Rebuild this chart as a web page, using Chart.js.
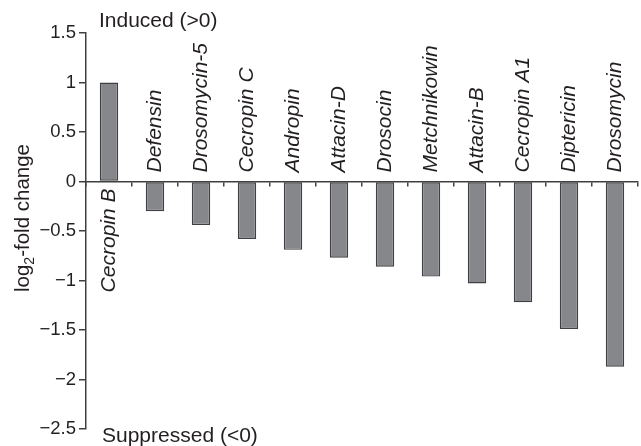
<!DOCTYPE html>
<html>
<head>
<meta charset="utf-8">
<script src="https://cdn.jsdelivr.net/npm/chart.js@4.4.1/dist/chart.umd.min.js"></script>
<style>
  body { margin: 0; background: #fff; }
  canvas { display: block; }
</style>
</head>
<body>
<canvas id="grafico" width="641" height="446"></canvas>
<script>
// geni e log2 fold change
const geni = ['Cecropin B', 'Defensin', 'Drosomycin-5', 'Cecropin C', 'Andropin', 'Attacin-D',
    'Drosocin', 'Metchnikowin', 'Attacin-B', 'Cecropin A1', 'Diptericin', 'Drosomycin'];
const foldChange = [1.0, -0.30, -0.44, -0.58, -0.69, -0.77, -0.86, -0.96, -1.03, -1.22, -1.49, -1.87];
const tickY = [1.5, 1, 0.5, 0, -0.5, -1, -1.5, -2, -2.5];
const testoSopra = 'Induced (>0)';
const testoSotto = 'Suppressed (<0)';

const FONT = "'Liberation Sans', Arial, Helvetica, sans-serif";
const NERO = '#231f20';
const ASSE = '#404040';

function formattaTick(v) {
    if (v === 0) return '0';
    return (v < 0 ? '\u2212' : '') + String(Math.abs(v));
}

// etichette dei geni ruotate, titolo asse y e note sopra/sotto
const etichettePlugin = {
    id: 'etichette',
    afterDraw(chart) {
        const ctx = chart.ctx;
        const x = chart.scales.x;
        const y = chart.scales.y;
        const zero = y.getPixelForValue(0);

        ctx.save();
        ctx.fillStyle = NERO;
        ctx.font = 'italic 21px ' + FONT;
        ctx.textBaseline = 'middle';
        geni.forEach((g, i) => {
            const px = x.getPixelForValue(i);
            ctx.save();
            if (foldChange[i] >= 0) {
                ctx.translate(px, zero + 7);
                ctx.rotate(-Math.PI / 2);
                ctx.textAlign = 'right';
            } else {
                ctx.translate(px, zero - 9);
                ctx.rotate(-Math.PI / 2);
                ctx.textAlign = 'left';
            }
            ctx.fillText(g, 0, 0);
            ctx.restore();
        });

        // note
        ctx.font = '21px ' + FONT;
        ctx.textAlign = 'left';
        ctx.fillText(testoSopra, 99, 21);
        ctx.fillText(testoSotto, 102, 436);

        // titolo asse y con pedice
        ctx.save();
        ctx.translate(23, 218);
        ctx.rotate(-Math.PI / 2);
        const parti = [['log', 20.5, 0], ['2', 14, 5], ['-fold change', 20.5, 0]];
        let larghezza = 0;
        parti.forEach(p => { ctx.font = p[1] + 'px ' + FONT; larghezza += ctx.measureText(p[0]).width; });
        let pos = -larghezza / 2;
        ctx.textBaseline = 'alphabetic';
        parti.forEach(p => {
            ctx.font = p[1] + 'px ' + FONT;
            ctx.fillText(p[0], pos, 6 + p[2]);
            pos += ctx.measureText(p[0]).width;
        });
        ctx.restore();
        ctx.restore();
    }
};

const ctx = document.getElementById('grafico').getContext('2d');
const grafico = new Chart(ctx, {
    type: 'bar',
    data: {
        labels: geni,
        datasets: [{
            data: foldChange,
            backgroundColor: '#86878b',
            borderColor: '#3f4044',
            borderWidth: 1.4,
            borderSkipped: false,
            barPercentage: 0.4,
            categoryPercentage: 1
        }]
    },
    options: {
        responsive: false,
        animation: false,
        layout: { padding: { left: 0, top: 33, right: 3, bottom: 17 } },
        plugins: {
            legend: { display: false },
            tooltip: { enabled: false }
        },
        scales: {
            x: {
                position: { y: 0 },
                grid: { display: true, drawOnChartArea: false, drawTicks: true, tickLength: 4, color: ASSE, lineWidth: 1.5, offset: true },
                border: { display: true, color: ASSE, width: 1.5 },
                ticks: { display: false },
                afterFit(scale) { scale.height = 0; }
            },
            y: {
                min: -2.5,
                max: 1.5,
                afterBuildTicks(scale) { scale.ticks = tickY.map(v => ({ value: v })); },
                grid: { drawOnChartArea: false, drawTicks: true, tickLength: 7, color: ASSE, lineWidth: 1.5 },
                border: { display: true, color: ASSE, width: 1.5 },
                ticks: {
                    color: NERO,
                    padding: 3,
                    font: { family: FONT, size: 18.5 },
                    callback: (v) => formattaTick(v)
                },
                afterFit(scale) { scale.width = 86; }
            }
        }
    },
    plugins: [etichettePlugin]
});
</script>
</body>
</html>
